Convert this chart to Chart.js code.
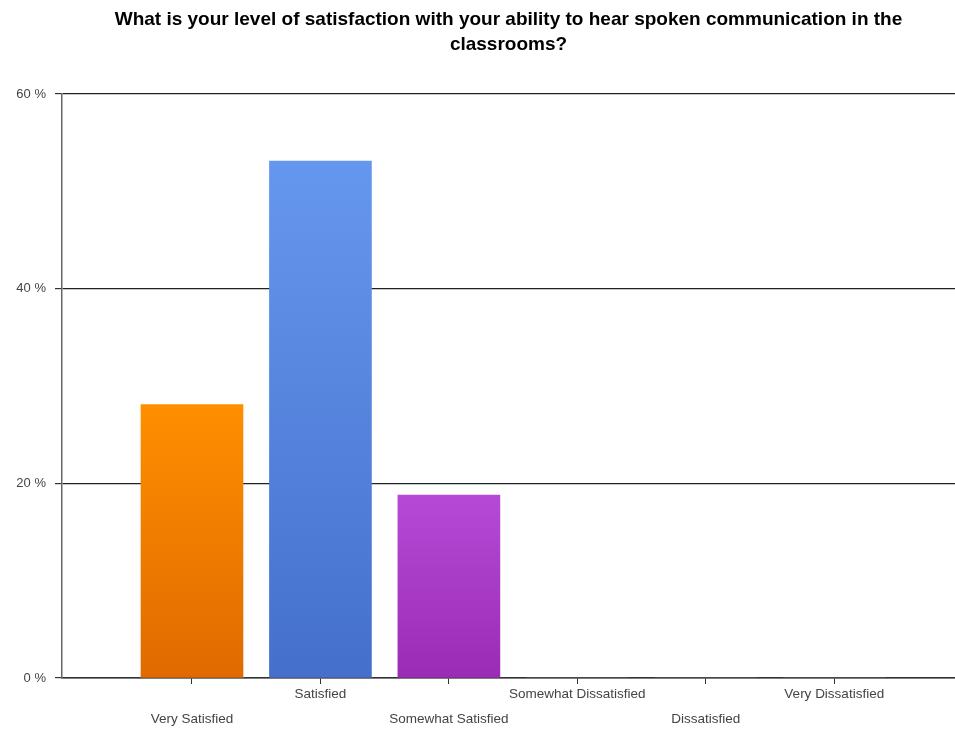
<!DOCTYPE html>
<html>
<head>
<meta charset="utf-8">
<script src="https://cdn.jsdelivr.net/npm/chart.js@4/dist/chart.umd.min.js"></script>
<style>
  html, body { margin: 0; padding: 0; background: #fff; }
  #wrap { width: 955px; height: 730px; }
</style>
</head>
<body>
<div id="wrap"><canvas id="c" width="955" height="730"></canvas></div>
<script>
const titleLines = ['What is your level of satisfaction with your ability to hear spoken communication in the', 'classrooms?'];
const categories = ['Very Satisfied', 'Satisfied', 'Somewhat Satisfied', 'Somewhat Dissatisfied', 'Dissatisfied', 'Very Dissatisfied'];
const percentages = [28.1, 53.1, 18.8, 0, 0, 0];
const yTicks = [0, 20, 40, 60];

const topColors = ['#FF8E00', '#6697EE', '#B64AD6', '#888888', '#888888', '#888888'];
const bottomColors = ['#E06A00', '#4470CC', '#9A2BB5', '#666666', '#666666', '#666666'];

function barGradient(context) {
  const chart = context.chart;
  const i = context.dataIndex;
  if (!chart.chartArea || i === undefined) return topColors[i] || '#888';
  const ys = chart.scales.y;
  const top = ys.getPixelForValue(percentages[i]);
  const bottom = ys.getPixelForValue(0);
  if (!(bottom > top)) return topColors[i];
  const g = chart.ctx.createLinearGradient(0, top, 0, bottom);
  g.addColorStop(0, topColors[i]);
  g.addColorStop(1, bottomColors[i]);
  return g;
}

new Chart(document.getElementById('c'), {
  type: 'bar',
  data: {
    datasets: [{
      data: categories.map((c, i) => ({ x: i + 1, y: percentages[i] })),
      backgroundColor: barGradient,
      borderWidth: 0,
      barThickness: 102
    }]
  },
  options: {
    responsive: false,
    animation: false,
    layout: { padding: { top: 0, right: 0, left: 0, bottom: 0 } },
    plugins: {
      legend: { display: false },
      tooltip: { enabled: false },
      title: {
        display: true,
        fullSize: false,
        text: titleLines,
        color: '#000',
        font: { family: 'Liberation Sans, Arial, sans-serif', size: 19, weight: 'bold', lineHeight: '25px' },
        padding: { top: 7, bottom: 37 }
      }
    },
    scales: {
      x: {
        type: 'linear',
        min: -0.012,
        max: 6.94,
        offset: false,
        afterBuildTicks: (scale) => { scale.ticks = categories.map((c, i) => ({ value: i + 1 })); },
        afterFit: (scale) => { scale.height = 52; },
        grid: { offset: false, drawOnChartArea: false, drawTicks: true, tickLength: 6, tickColor: '#333', lineWidth: 1 },
        border: { display: true, color: '#333', width: 1.5 },
        ticks: {
          autoSkip: false,
          maxRotation: 0,
          minRotation: 0,
          padding: -2,
          color: '#444',
          font: { family: 'Liberation Sans, Arial, sans-serif', size: 13.5, lineHeight: '25px' },
          callback: (v) => {
            const i = Math.round(v) - 1;
            const label = categories[i];
            if (label === undefined) return '';
            return i % 2 === 0 ? ['', label] : [label];
          }
        }
      },
      y: {
        min: 0,
        max: 60,
        afterBuildTicks: (scale) => { scale.ticks = yTicks.map(v => ({ value: v })); },
        afterFit: (scale) => { scale.width = 62; },
        grid: { color: '#222', lineWidth: 1.2, drawTicks: true, tickLength: 7, tickColor: '#333' },
        border: { display: true, color: '#666', width: 1.5 },
        ticks: {
          padding: 9,
          color: '#444',
          font: { family: 'Liberation Sans, Arial, sans-serif', size: 13 },
          callback: (v) => v + ' %'
        }
      }
    }
  }
});
</script>
</body>
</html>
